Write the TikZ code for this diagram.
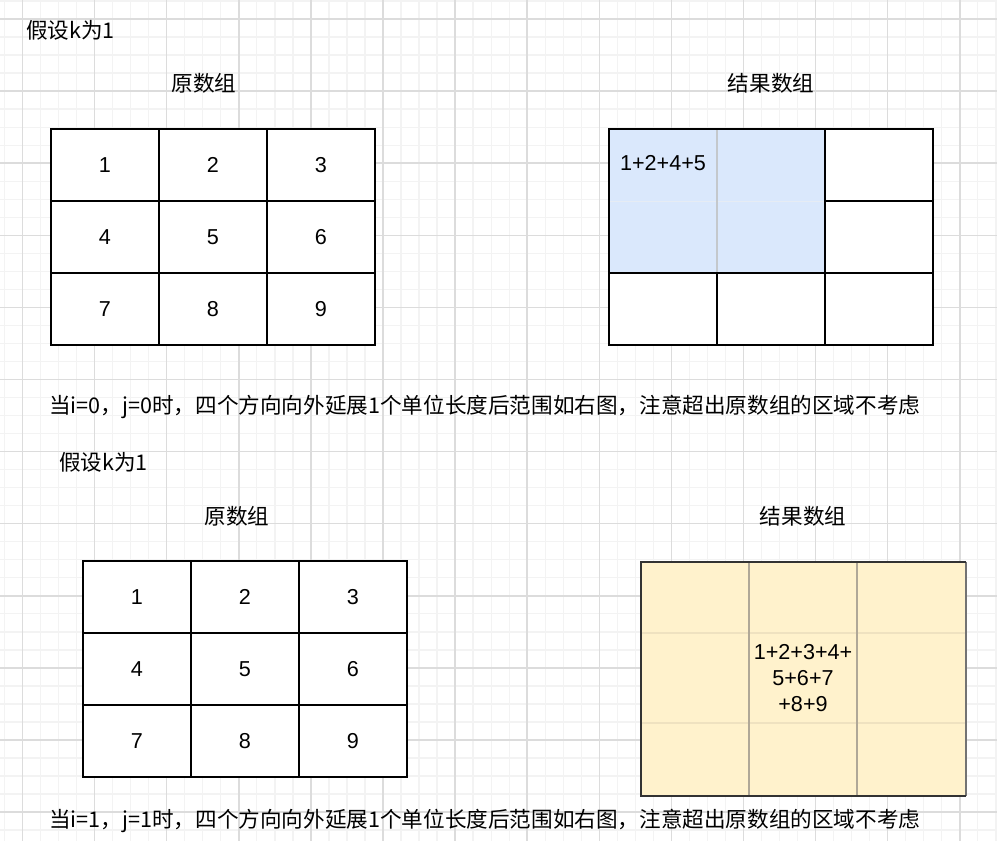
\documentclass[tikz,border=0pt]{standalone}
\usepackage{fontspec}
\setmainfont{Liberation Sans}
\newfontfamily\cjk{Noto Sans CJK SC}
\definecolor{majorgrid}{HTML}{DCDCDC}
\definecolor{minorgrid}{HTML}{F3F3F3}
\definecolor{bluefill}{HTML}{DAE8FC}
\definecolor{yellowfill}{HTML}{FFF2CC}
\definecolor{yline}{HTML}{B0A897}
\definecolor{yfaint}{HTML}{EFE2C0}
\definecolor{bline}{HTML}{C4C8CC}
\definecolor{bfaint}{HTML}{E6ECF4}
\begin{document}
\begin{tikzpicture}[x=1pt,y=-1pt,font=\fontsize{21.6}{26}\selectfont,
  cell/.style={draw=black,line width=1.8pt,minimum width=108pt,minimum height=72pt,inner sep=0pt,fill=white},
  frame/.style={draw=black,line width=1.8pt,inner sep=0pt},
  label/.style={inner sep=0pt,font=\fontsize{21.6}{26}\selectfont\cjk},
  num/.style={inner sep=0pt}]
\useasboundingbox (0,0) rectangle (997,841);
\fill[white] (0,0) rectangle (997,841);
\begin{scope}
\clip (0,0) rectangle (997,841);
\foreach \i in {-4,...,56} {
  \draw[minorgrid,line width=1.3pt] ({22.5+18.025*\i},0) -- ++(0,841);
  \draw[minorgrid,line width=1.3pt] (0,{19+18.025*\i}) -- ++(997,0);
}
\foreach \i in {0,...,13} {
  \draw[majorgrid,line width=1.5pt] ({22.5+72.1*\i},0) -- ++(0,841);
}
\foreach \i in {0,...,11} {
  \draw[majorgrid,line width=1.5pt] (0,{19+72.1*\i}) -- ++(997,0);
}
\end{scope}

% ---------- top part ----------
\node[label,anchor=west] (k1) at (26,30) {假设k为1};
\node[label] (src1) at (204,83) {原数组};
\node[label] (res1) at (771,83) {结果数组};

\node[cell] (a11) at (105,165) {}; \node[num] at (a11.center) {1};
\node[cell] (a12) at (213,165) {}; \node[num] at (a12.center) {2};
\node[cell] (a13) at (321,165) {}; \node[num] at (a13.center) {3};
\node[cell] (a21) at (105,237) {}; \node[num] at (a21.center) {4};
\node[cell] (a22) at (213,237) {}; \node[num] at (a22.center) {5};
\node[cell] (a23) at (321,237) {}; \node[num] at (a23.center) {6};
\node[cell] (a31) at (105,309) {}; \node[num] at (a31.center) {7};
\node[cell] (a32) at (213,309) {}; \node[num] at (a32.center) {8};
\node[cell] (a33) at (321,309) {}; \node[num] at (a33.center) {9};

% result 1
\node[fill=bluefill,minimum width=216pt,minimum height=144pt,inner sep=0pt] (blue) at (717,201) {};
\draw[bfaint,line width=1pt] (blue.west) -- (blue.east);
\draw[bline,line width=1.2pt] (blue.north) -- (blue.south);
\node[cell] (b13) at (879,165) {};
\node[cell] (b23) at (879,237) {};
\node[cell] (b31) at (663,309) {};
\node[cell] (b32) at (771,309) {};
\node[cell] (b33) at (879,309) {};
\node[frame,minimum width=324pt,minimum height=216pt] (r1frame) at (771,237) {};
\node[num] (sum1) at (663,163) {1+2+4+5};

\node[label,anchor=west] (t1) at (49,407) {当i=0，j=0时，四个方向向外延展1个单位长度后范围如右图，注意超出原数组的区域不考虑};

% ---------- bottom part ----------
\node[label,anchor=west] (k2) at (59,462) {假设k为1};
\node[label] (src2) at (237,516) {原数组};
\node[label] (res2) at (803,516) {结果数组};

\node[cell] (c11) at (137,597) {}; \node[num] at (c11.center) {1};
\node[cell] (c12) at (245,597) {}; \node[num] at (c12.center) {2};
\node[cell] (c13) at (353,597) {}; \node[num] at (c13.center) {3};
\node[cell] (c21) at (137,669) {}; \node[num] at (c21.center) {4};
\node[cell] (c22) at (245,669) {}; \node[num] at (c22.center) {5};
\node[cell] (c23) at (353,669) {}; \node[num] at (c23.center) {6};
\node[cell] (c31) at (137,741) {}; \node[num] at (c31.center) {7};
\node[cell] (c32) at (245,741) {}; \node[num] at (c32.center) {8};
\node[cell] (c33) at (353,741) {}; \node[num] at (c33.center) {9};

% result 2
\node[fill=yellowfill,minimum width=325pt,minimum height=234pt,inner sep=0pt] (yel) at (803.5,679) {};
\coordinate (yv1t) at (749,562); \coordinate (yv1b) at (749,796);
\coordinate (yv2t) at (857,562); \coordinate (yv2b) at (857,796);
\coordinate (yh1l) at (641,633); \coordinate (yh1r) at (966,633);
\coordinate (yh2l) at (641,723); \coordinate (yh2r) at (966,723);
\draw[yfaint,line width=1.2pt] (yh1l) -- (yh1r);
\draw[yfaint,line width=1.2pt] (yh2l) -- (yh2r);
\draw[yline,line width=1.3pt] (yv1t) -- (yv1b);
\draw[yline,line width=1.3pt] (yv2t) -- (yv2b);
\draw[black!55,line width=2pt] (yel.north east) -- (yel.south east);
\draw[black!80,line width=1.6pt] (yel.south east) -- (yel.south west) -- (yel.north west) -- (yel.north east);
\node[num,align=center] (sum2) at (803,678) {1+2+3+4+\\5+6+7\\+8+9};

\node[label,anchor=west] (t2) at (49,821) {当i=1，j=1时，四个方向向外延展1个单位长度后范围如右图，注意超出原数组的区域不考虑};
\end{tikzpicture}
\end{document}
